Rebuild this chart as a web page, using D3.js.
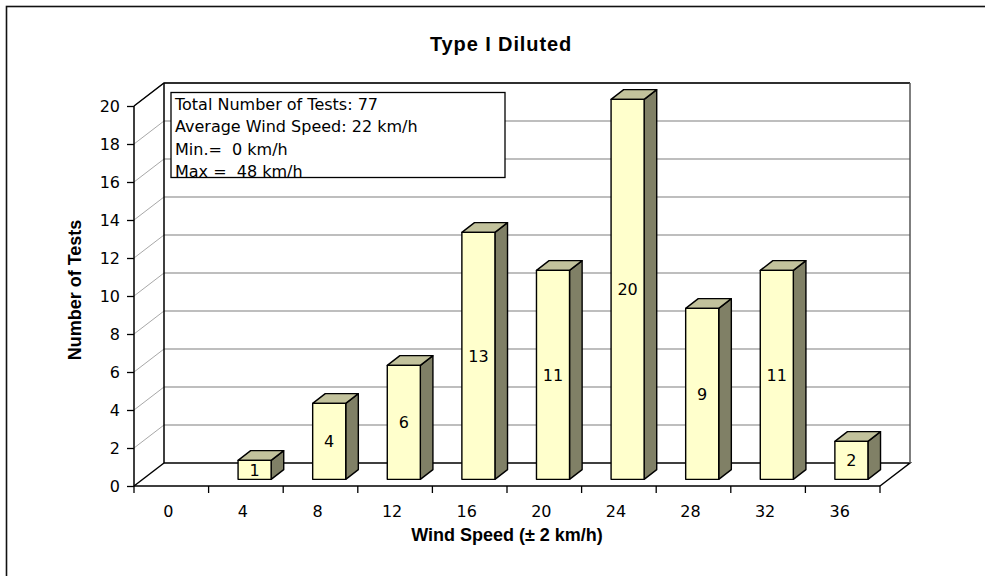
<!DOCTYPE html>
<html>
<head>
<meta charset="utf-8">
<script src="https://cdn.jsdelivr.net/npm/d3@7"></script>
<style>
  html, body { margin: 0; padding: 0; background: #ffffff; }
  svg { display: block; }
  text { font-family: "DejaVu Sans", Verdana, sans-serif; fill: #000; }
</style>
</head>
<body>
<svg id="chart" width="985" height="576"></svg>
<script>
// Wind speed classes (km/h, ±2) and number of tests in each
const categories = [0, 4, 8, 12, 16, 20, 24, 28, 32, 36];
const counts = [0, 1, 4, 6, 13, 11, 20, 9, 11, 2];
const yTicks = [0, 2, 4, 6, 8, 10, 12, 14, 16, 18, 20];
const infoLines = [
  "Total Number of Tests: 77",
  "Average Wind Speed: 22 km/h",
  "Min.=  0 km/h",
  "Max =  48 km/h"
];
const titleText = "Type I Diluted";
const xTitle = "Wind Speed (\u00B1 2 km/h)";
const yTitle = "Number of Tests";

const svg = d3.select("#chart");

// Outer chart frame
svg.append("rect")
  .attr("x", 6.5).attr("y", 6.5)
  .attr("width", 1000).attr("height", 600)
  .attr("fill", "#fff").attr("stroke", "#111").attr("stroke-width", 1.6);

// Front plane scales; the 3D depth is a constant offset
const x = d3.scaleBand().domain(categories).range([134, 880]).paddingInner(0).paddingOuter(0);
const y = d3.scaleLinear().domain([0, 20]).range([486, 106]);
const DX = 30, DY = -23;           // full depth of the floor
const barFront = 0.29, barDepth = 0.42;
const barW = x.bandwidth() * 0.443;

const xl = x.range()[0], xr = x.range()[1];
const y0 = y(0), yTop = y(20);

// Back wall and left wall
svg.append("rect")
  .attr("x", xl + DX).attr("y", yTop + DY)
  .attr("width", xr - xl).attr("height", y0 - yTop)
  .attr("fill", "#fff");

const grid = svg.append("g");
yTicks.filter(t => t > 0).forEach(t => {
  grid.append("line")
    .attr("x1", xl + DX).attr("x2", xr + DX)
    .attr("y1", y(t) + DY).attr("y2", y(t) + DY)
    .attr("stroke", "#a8a8a8").attr("stroke-width", 1.4);
  grid.append("line")
    .attr("x1", xl).attr("x2", xl + DX)
    .attr("y1", y(t)).attr("y2", y(t) + DY)
    .attr("stroke", "#a8a8a8").attr("stroke-width", 1);
});

// Wall / floor outlines
const frame = svg.append("g").attr("stroke", "#000").attr("stroke-width", 1.5).attr("fill", "none");
frame.append("path").attr("d",
  `M${xl},${yTop} L${xl + DX},${yTop + DY} L${xr + DX},${yTop + DY}`);
frame.append("path").attr("d",
  `M${xl + DX},${yTop + DY} L${xl + DX},${y0 + DY} L${xr + DX},${y0 + DY} L${xr},${y0}`);
frame.append("line").attr("x1", xr + DX).attr("x2", xr + DX)
  .attr("y1", yTop + DY).attr("y2", y0 + DY).attr("stroke", "#555");
frame.append("path").attr("d", `M${xl},${y0} L${xl + DX},${y0 + DY}`);
frame.append("path").attr("d", `M${xl},${yTop} L${xl},${y0} L${xr},${y0}`);

// 3D columns
const bars = svg.append("g").selectAll("g")
  .data(categories.map((c, i) => ({ c, v: counts[i] })).filter(d => d.v > 0))
  .join("g")
  .attr("stroke", "#000").attr("stroke-width", 1.4).attr("stroke-linejoin", "round");

bars.each(function (d) {
  const g = d3.select(this);
  const fx = x(d.c) + (x.bandwidth() - barW) / 2 + DX * barFront;
  const fyb = y(0) + DY * barFront;
  const fyt = y(d.v) + DY * barFront;
  const ddx = DX * barDepth, ddy = DY * barDepth;
  // side
  g.append("path")
    .attr("d", `M${fx + barW},${fyt} L${fx + barW + ddx},${fyt + ddy} L${fx + barW + ddx},${fyb + ddy} L${fx + barW},${fyb} Z`)
    .attr("fill", "#808066");
  // top
  g.append("path")
    .attr("d", `M${fx},${fyt} L${fx + ddx},${fyt + ddy} L${fx + barW + ddx},${fyt + ddy} L${fx + barW},${fyt} Z`)
    .attr("fill", "#c2c29c");
  // front
  g.append("rect")
    .attr("x", fx).attr("y", fyt)
    .attr("width", barW).attr("height", fyb - fyt)
    .attr("fill", "#ffffcc");
  // value label
  g.append("text")
    .attr("x", fx + barW / 2).attr("y", (fyt + fyb) / 2)
    .attr("dy", "0.36em")
    .attr("text-anchor", "middle")
    .attr("stroke", "none")
    .style("font-size", "16px")
    .text(d.v);
});

// Y axis ticks and labels
const yAxis = svg.append("g")
  .attr("transform", `translate(${xl},0)`)
  .call(d3.axisLeft(y).tickValues(yTicks).tickSize(7).tickPadding(7).tickFormat(d3.format("d")));
yAxis.select(".domain").remove();
yAxis.selectAll("line").attr("stroke", "#000").attr("stroke-width", 1.3);
yAxis.selectAll("text").style("font-size", "16px").style("font-family", "DejaVu Sans, sans-serif");

// X axis: ticks at class boundaries, labels at class centres
const xAxis = svg.append("g")
  .attr("transform", `translate(0,${y0})`)
  .call(d3.axisBottom(x).tickSize(0).tickPadding(20));
xAxis.select(".domain").remove();
xAxis.selectAll("text")
  .attr("x", -3)
  .style("font-size", "16px").style("font-family", "DejaVu Sans, sans-serif");
const bounds = categories.map(c => x(c)).concat([xr]);
svg.append("g").selectAll("line").data(bounds).join("line")
  .attr("x1", d => d).attr("x2", d => d)
  .attr("y1", y0).attr("y2", y0 + 7)
  .attr("stroke", "#000").attr("stroke-width", 1.3);

// Titles
svg.append("text")
  .attr("x", 501).attr("y", 51)
  .attr("text-anchor", "middle")
  .style("font-family", "Liberation Sans, Arial, sans-serif")
  .style("font-weight", "bold").style("font-size", "20px")
  .style("letter-spacing", "0.9px")
  .text(titleText);

svg.append("text")
  .attr("x", 507).attr("y", 541)
  .attr("text-anchor", "middle")
  .style("font-family", "Liberation Sans, Arial, sans-serif")
  .style("font-weight", "bold").style("font-size", "18px")
  .text(xTitle);

svg.append("text")
  .attr("transform", "translate(81,290) rotate(-90)")
  .attr("text-anchor", "middle")
  .style("font-family", "Liberation Sans, Arial, sans-serif")
  .style("font-weight", "bold").style("font-size", "18px")
  .text(yTitle);

// Summary box (text clipped by its frame)
const box = { x: 171, y: 92.5, w: 334, h: 85 };
svg.append("clipPath").attr("id", "boxClip")
  .append("rect").attr("x", box.x).attr("y", box.y).attr("width", box.w).attr("height", box.h);
svg.append("rect")
  .attr("x", box.x).attr("y", box.y).attr("width", box.w).attr("height", box.h)
  .attr("fill", "#fff").attr("stroke", "#000").attr("stroke-width", 1.3);
svg.append("g").attr("clip-path", "url(#boxClip)")
  .selectAll("text").data(infoLines).join("text")
  .attr("x", 175)
  .attr("y", (d, i) => 109.5 + i * 22.6)
  .attr("xml:space", "preserve")
  .style("white-space", "pre")
  .style("font-size", "16px")
  .text(d => d);
</script>
</body>
</html>
